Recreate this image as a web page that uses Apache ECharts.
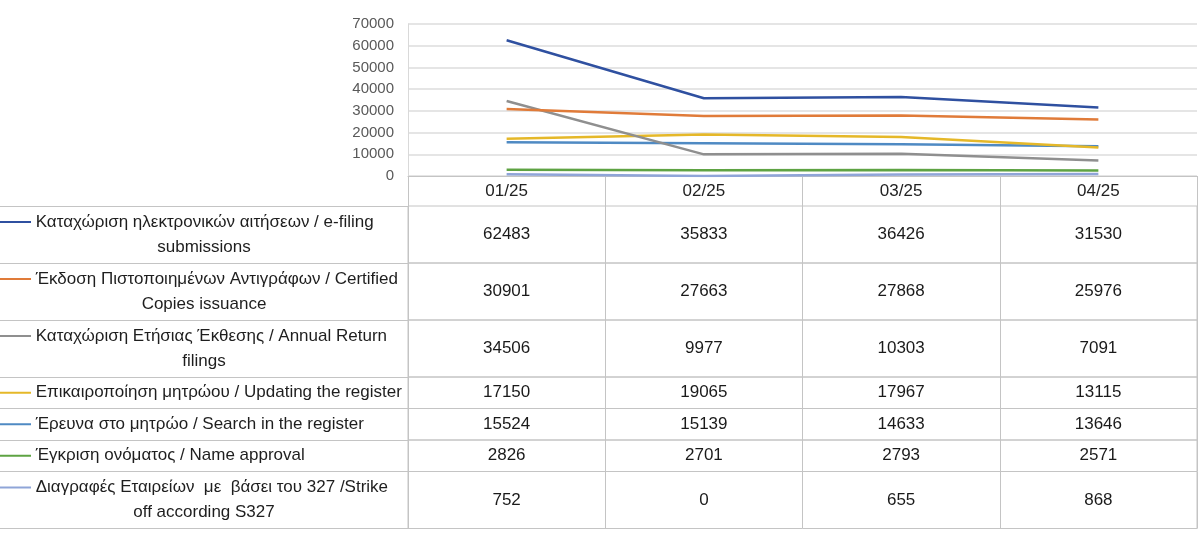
<!DOCTYPE html>
<html>
<head>
<meta charset="utf-8">
<script src="https://cdn.jsdelivr.net/npm/echarts@6/dist/echarts.min.js"></script>
<style>
html, body { margin: 0; background: #fff; }
#main { width: 1200px; height: 536px; }
</style>
</head>
<body>
<div id="main"></div>
<script>
/* data */
var months = ['01/25', '02/25', '03/25', '04/25'];
var yTicks = [0, 10000, 20000, 30000, 40000, 50000, 60000, 70000];

var names = [
	'Καταχώριση ηλεκτρονικών αιτήσεων / e-filing submissions',
	'Έκδοση Πιστοποιημένων Αντιγράφων / Certified Copies issuance',
	'Καταχώριση Ετήσιας Έκθεσης / Annual Return filings',
	'Επικαιροποίηση μητρώου / Updating the register',
	'Έρευνα στο μητρώο / Search in the register',
	'Έγκριση ονόματος / Name approval',
	'Διαγραφές Εταιρείων  με  βάσει του 327 /Strike off according S327'
];
// how each name is broken in the table
var nameLines = [
	['Καταχώριση ηλεκτρονικών αιτήσεων / e-filing', 'submissions'],
	['Έκδοση Πιστοποιημένων Αντιγράφων / Certified', 'Copies issuance'],
	['Καταχώριση Ετήσιας Έκθεσης / Annual Return', 'filings'],
	['Επικαιροποίηση μητρώου / Updating the register'],
	['Έρευνα στο μητρώο / Search in the register'],
	['Έγκριση ονόματος / Name approval'],
	['Διαγραφές Εταιρείων  με  βάσει του 327 /Strike', 'off according S327']
];

var eFiling   = [62483, 35833, 36426, 31530];
var certified = [30901, 27663, 27868, 25976];
var annual    = [34506, 9977, 10303, 7091];
var updating  = [17150, 19065, 17967, 13115];
var search    = [15524, 15139, 14633, 13646];
var naming    = [2826, 2701, 2793, 2571];
var strikeOff = [752, 0, 655, 868];

var rows = [eFiling, certified, annual, updating, search, naming, strikeOff];
var colors = ['#2f50a0', '#e07b39', '#8f8f8f', '#e5b829', '#4f8ac3', '#5ea343', '#8fa5d8'];

/* layout */
var LEFT = 408, RIGHT = 3;
var TABLE_TOP = 206;
var FONT = "'Liberation Sans', sans-serif";
var lineColor = '#c4c4c4';

(function(){
	var myChart = echarts.init(document.getElementById('main'));

	var grids = [{ left: LEFT, right: RIGHT, top: 24, height: 152, outerBoundsMode: 'none' }];
	var xAxes = [{
		type: 'category',
		gridIndex: 0,
		data: months,
		boundaryGap: true,
		axisLine: { lineStyle: { color: lineColor } },
		axisTick: { show: true, length: 30, interval: 0, lineStyle: { color: lineColor } },
		axisLabel: { margin: 7, fontSize: 17, color: '#222', fontFamily: FONT }
	}];
	var yAxes = [{
		type: 'value',
		gridIndex: 0,
		min: yTicks[0],
		max: yTicks[yTicks.length - 1],
		interval: yTicks[1] - yTicks[0],
		axisLine: { show: true, lineStyle: { color: '#d9d9d9' } },
		axisTick: { show: false },
		splitLine: { lineStyle: { color: '#dcdcdc', width: 1.5 } },
		axisLabel: {
			margin: 14, fontSize: 15, color: '#595959', fontFamily: FONT,
			formatter: function(v){ return String(v); }
		}
	}];
	var series = [];

	rows.forEach(function(vals, i){
		series.push({
			name: names[i],
			type: 'line',
			xAxisIndex: 0,
			yAxisIndex: 0,
			data: vals,
			symbol: 'none',
			color: colors[i],
			lineStyle: { width: 2.5, color: colors[i] },
			z: 10 - i
		});
	});

	// data table: one little grid per row
	var top = TABLE_TOP;
	nameLines.forEach(function(lines, i){
		var h = lines.length > 1 ? 57 : 31.5;
		var g = i + 1;
		grids.push({
			left: LEFT, right: RIGHT, top: top, height: h,
			outerBoundsMode: 'none',
			show: true, borderColor: lineColor, borderWidth: 1, backgroundColor: 'transparent'
		});
		top += h;

		xAxes.push({
			type: 'category',
			gridIndex: g,
			data: months,
			axisLine: { show: false },
			axisTick: { show: false },
			axisLabel: { show: false },
			splitLine: { show: true, interval: 0, lineStyle: { color: lineColor } }
		});

		var rich = {
			t: { fontSize: 17, lineHeight: 25, color: '#1e1e1e', fontFamily: FONT },
			c: { fontSize: 17, lineHeight: 25, color: '#1e1e1e', fontFamily: FONT, align: 'center' }
		};
		rich['k' + i] = { width: 31, height: 2, backgroundColor: colors[i] };

		yAxes.push({
			type: 'category',
			gridIndex: g,
			data: [names[i]],
			axisLine: { show: false },
			axisTick: { show: true, length: LEFT, lineStyle: { color: lineColor } },
			splitLine: { show: false },
			axisLabel: {
				margin: LEFT,
				align: 'left',
				width: LEFT,
				overflow: 'none',
				formatter: function(){
					var s = '{k' + i + '|}{t| ' + lines[0] + '}';
					if (lines[1]) s += '\n{c|' + lines[1] + '}';
					return s;
				},
				rich: rich
			}
		});

		series.push({
			type: 'scatter',
			xAxisIndex: g,
			yAxisIndex: g,
			symbolSize: 1,
			itemStyle: { color: '#fff', opacity: 1 },
			silent: true,
			data: rows[i].map(function(v, j){ return [j, 0, v]; }),
			label: {
				show: true,
				position: 'inside',
				fontSize: 17,
				color: '#1a1a1a',
				textBorderWidth: 0,
				fontFamily: FONT,
				formatter: function(p){ return p.data[2]; }
			}
		});
	});

	var option = {
		animation: false,
		backgroundColor: '#fff',
		grid: grids,
		xAxis: xAxes,
		yAxis: yAxes,
		series: series
	};
	myChart.setOption(option);
})();
</script>
</body>
</html>
